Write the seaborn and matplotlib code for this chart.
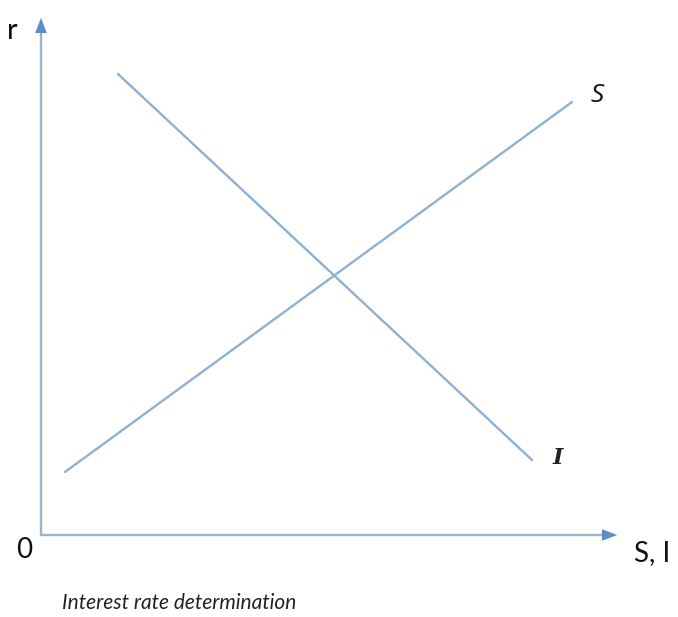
import pandas as pd
import matplotlib.pyplot as plt
import seaborn as sns

# curve end points (axis units, origin at the corner of the axes)
curves = ["S", "S", "I", "I"]
qty = [24, 531, 77, 491]
rate = [63, 433, 461, 75]
x_max = 579
y_max = 520
caption = "Interest rate determination"

df = pd.DataFrame({"curve": curves, "qty": qty, "rate": rate})

sns.set_style("white")
fig = plt.figure(figsize=(6.78, 6.17), dpi=100)
ax = fig.add_axes([0, 0, 1, 1])

sns.lineplot(data=df, x="qty", y="rate", hue="curve", palette=["#8fb0d0", "#8fb0d0"],
             linewidth=1.7, legend=False, ax=ax, sort=False, estimator=None)

# axes with arrows
axis_col = "#9fb4c8"
arrow_col = "#5b8ec4"
ax.plot([0, 0], [0, y_max - 14], color=axis_col, lw=1.7)
ax.plot([0, x_max - 14], [0, 0], color=axis_col, lw=1.7)
head = "-|>,head_length=1.1,head_width=0.42"
ax.annotate("", xy=(0, y_max), xytext=(0, y_max - 20),
            arrowprops=dict(arrowstyle=head, color=arrow_col, lw=0))
ax.annotate("", xy=(x_max, 0), xytext=(x_max - 20, 0),
            arrowprops=dict(arrowstyle=head, color=arrow_col, lw=0))

txt = dict(family="Lato", color="#111111", ha="center", va="center")
ax.text(-29, 504, "r", fontsize=21, **txt)
ax.text(-17, -15, "0", fontsize=20, **txt)
ax.text(611, -18, "S, I", fontsize=20, **txt)
ax.text(556, 440, "S", fontsize=19, family="Open Sans", style="italic",
        color="#111111", ha="center", va="center")
ax.text(517, 77, "I", fontsize=16, family="DejaVu Serif", style="italic",
        weight="semibold", color="#222222", ha="center", va="center")
ax.text(21, -68, caption, fontsize=15, family="Lato", style="italic",
        color="#222222", ha="left", va="center")

ax.set_xlim(-41, 637)
ax.set_ylim(-82, 535)
ax.axis("off")

plt.savefig("out.png", dpi=100)
